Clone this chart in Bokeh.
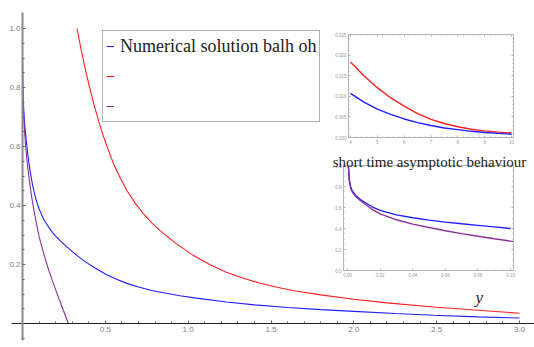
from bokeh.plotting import figure
from bokeh.models import (Range1d, LinearAxis, FixedTicker, PrintfTickFormatter,
                          Legend, LegendItem, Label)
from bokeh.embed import file_html
from bokeh.resources import INLINE

# ---------------- data ----------------
# main plot
blue_x = [0.0005, 0.002, 0.005, 0.01, 0.015, 0.02, 0.025, 0.03, 0.038, 0.045, 0.05, 0.06,
          0.07, 0.08, 0.09, 0.1, 0.115, 0.13, 0.145, 0.16, 0.18, 0.2, 0.23, 0.259, 0.29,
          0.33, 0.38, 0.44, 0.5, 0.56, 0.63, 0.7, 0.78, 0.85, 0.95, 1.05, 1.23, 1.4, 1.6,
          1.8, 2.0, 2.25, 2.48, 2.75, 3.0]
blue_y = [0.90, 0.81, 0.75, 0.70, 0.665, 0.635, 0.607, 0.582, 0.547, 0.52, 0.503, 0.472,
          0.446, 0.424, 0.405, 0.389, 0.369, 0.352, 0.338, 0.325, 0.309, 0.296, 0.279,
          0.264, 0.249, 0.230, 0.209, 0.187, 0.168, 0.152, 0.136, 0.124, 0.112, 0.104,
          0.094, 0.086, 0.073, 0.063, 0.054, 0.047, 0.041, 0.034, 0.028, 0.0225, 0.0185]

red_x = [0.329, 0.355, 0.38, 0.405, 0.43, 0.46, 0.49, 0.52, 0.55, 0.59, 0.63, 0.68, 0.73,
         0.78, 0.83, 0.93, 1.03, 1.13, 1.23, 1.33, 1.43, 1.53, 1.63, 1.8, 2.0, 2.2, 2.48,
         2.75, 3.0]
red_y = [1.0, 0.925, 0.86, 0.80, 0.745, 0.685, 0.632, 0.585, 0.541, 0.493, 0.451, 0.408,
         0.372, 0.341, 0.315, 0.27, 0.231, 0.2, 0.174, 0.154, 0.137, 0.124, 0.112, 0.097,
         0.082, 0.07, 0.056, 0.045, 0.035]

purple_x = [0.0005, 0.002, 0.005, 0.01, 0.015, 0.02, 0.027, 0.034, 0.045, 0.058, 0.07,
            0.085, 0.1, 0.115, 0.13, 0.145, 0.16, 0.19, 0.22, 0.25, 0.277]
purple_y = [0.85, 0.79, 0.735, 0.675, 0.63, 0.595, 0.553, 0.519, 0.47, 0.42, 0.381, 0.336,
            0.295, 0.263, 0.233, 0.205, 0.178, 0.130, 0.084, 0.040, 0.0]

main_xticks = [0.5, 1.0, 1.5, 2.0, 2.5, 3.0]
main_xminor = [0.1, 0.2, 0.3, 0.4, 0.6, 0.7, 0.8, 0.9, 1.1, 1.2, 1.3, 1.4, 1.6, 1.7, 1.8, 1.9,
               2.1, 2.2, 2.3, 2.4, 2.6, 2.7, 2.8, 2.9]
main_yticks = [0.2, 0.4, 0.6, 0.8, 1.0]
main_yminor = [0.05, 0.1, 0.15, 0.25, 0.3, 0.35, 0.45, 0.5, 0.55, 0.65, 0.7, 0.75,
               0.85, 0.9, 0.95, -0.05]
main_xbounds = (-0.066, 3.09)
main_ybounds = (-0.058, 1.054)

legend_labels = ["Numerical solution balh oh", " ", " "]
x_label = "y"

# inset 1 (long time)
i1_x = [4, 4.5, 5, 5.5, 6, 6.5, 7, 7.5, 8, 8.5, 9, 9.5, 10]
i1_red = [0.0183, 0.0150, 0.0121, 0.0096, 0.0076, 0.0058, 0.0044, 0.0034, 0.0026, 0.0020,
          0.0016, 0.0013, 0.0011]
i1_blue = [0.0107, 0.0086, 0.0069, 0.0056, 0.0045, 0.0036, 0.0029, 0.0023, 0.0019, 0.0015,
           0.0012, 0.0010, 0.0008]
i1_xlim = (3.925, 10.075)
i1_ylim = (0.0, 0.025)
i1_xticks = [4, 5, 6, 7, 8, 9, 10]
i1_xminor = [4.2, 4.4, 4.6, 4.8, 5.2, 5.4, 5.6, 5.8, 6.2, 6.4, 6.6, 6.8, 7.2, 7.4, 7.6, 7.8,
             8.2, 8.4, 8.6, 8.8, 9.2, 9.4, 9.6, 9.8]
i1_yticks = [0.0, 0.005, 0.010, 0.015, 0.020, 0.025]
i1_yminor = [0.001, 0.002, 0.003, 0.004, 0.006, 0.007, 0.008, 0.009, 0.011, 0.012, 0.013, 0.014,
             0.016, 0.017, 0.018, 0.019, 0.021, 0.022, 0.023, 0.024]

# inset 2 (short time)
i2_title = "short time asymptotic behaviour"
i2_x = [0.0005, 0.001, 0.002, 0.003, 0.005, 0.0075, 0.01, 0.015, 0.02, 0.03, 0.04, 0.05,
        0.06, 0.07, 0.08, 0.09, 0.10]
i2_blue = [1.0, 0.87, 0.79, 0.755, 0.715, 0.68, 0.655, 0.607, 0.572, 0.53, 0.502, 0.48,
           0.461, 0.445, 0.43, 0.415, 0.40]
i2_purple_x = [0.0005, 0.001, 0.002, 0.003, 0.005, 0.0075, 0.01, 0.015, 0.02, 0.03, 0.04, 0.05,
               0.06, 0.07, 0.08, 0.09, 0.10, 0.102]
i2_purple = [1.0, 0.86, 0.78, 0.745, 0.705, 0.67, 0.64, 0.583, 0.54, 0.483, 0.442, 0.409,
             0.379, 0.351, 0.326, 0.302, 0.28, 0.276]
i2_xlim = (-0.0025, 0.1018)
i2_ylim = (0.0, 1.0)
i2_xticks = [0.0, 0.02, 0.04, 0.06, 0.08, 0.10]
i2_xminor = [0.005, 0.01, 0.015, 0.025, 0.03, 0.035, 0.045, 0.05, 0.055, 0.065, 0.07, 0.075,
             0.085, 0.09, 0.095]
i2_yticks = [0.0, 0.2, 0.4, 0.6, 0.8, 1.0]
i2_yminor = [0.05, 0.1, 0.15, 0.25, 0.3, 0.35, 0.45, 0.5, 0.55, 0.65, 0.7, 0.75, 0.85, 0.9, 0.95]

# ---------------- styles / layout ----------------
W, H = 534, 347
BLUE, RED, PURPLE = "#1f1fff", "#ff1f1f", "#8f2f9f"
SERIF = "Liberation Serif"
SANS = "Liberation Sans"


def box_range(p0, p1, lim, total, flip=False):
    # map lim[0]..lim[1] onto pixels p0..p1 of a frame of size `total`
    scale = (lim[1] - lim[0]) / (p1 - p0)
    if not flip:
        return Range1d(lim[0] - p0 * scale, lim[1] + (total - p1) * scale)
    # vertical: p0 = top pixel (lim[1]), p1 = bottom pixel (lim[0])
    return Range1d(lim[0] - (total - p1) * scale, lim[1] + p0 * scale)


p = figure(width=W, height=H, output_backend="svg", toolbar_location=None,
           x_range=box_range(22, 519, (0.0, 3.0), W),
           y_range=box_range(28, 323, (0.0, 1.0), H, flip=True),
           min_border=0, x_axis_location=None, y_axis_location=None)
p.grid.visible = False
p.outline_line_color = None
p.background_fill_color = "white"
p.border_fill_color = "white"


def style_axis(ax, line_color, line_width, label_size, label_color, tick_color,
               major_in, minor_in, standoff, show_labels=True):
    ax.axis_line_color = line_color
    ax.axis_line_width = line_width
    ax.major_tick_in = major_in
    ax.major_tick_out = 0
    ax.minor_tick_in = minor_in
    ax.minor_tick_out = 0
    ax.major_tick_line_color = tick_color
    ax.minor_tick_line_color = tick_color
    ax.major_label_text_font = SANS
    ax.major_label_text_font_size = label_size
    ax.major_label_text_color = label_color
    ax.major_label_standoff = standoff
    if not show_labels:
        ax.major_label_text_alpha = 0


# main axes crossing at origin
xa = LinearAxis(fixed_location=0, bounds=main_xbounds,
                ticker=FixedTicker(ticks=main_xticks, minor_ticks=main_xminor),
                formatter=PrintfTickFormatter(format="%.1f"))
style_axis(xa, "#222222", 1, "8px", "#808080", "#666666", 3, 2, 3)
p.add_layout(xa, "below")
ya = LinearAxis(fixed_location=0, bounds=main_ybounds,
                ticker=FixedTicker(ticks=main_yticks, minor_ticks=main_yminor),
                formatter=PrintfTickFormatter(format="%.1f"))
style_axis(ya, "#8a8a8a", 2, "8px", "#808080", "#666666", 3, 2, 2)
p.add_layout(ya, "left")

rb = p.line(blue_x, blue_y, line_color=BLUE, line_width=1.1)
rr = p.line(red_x, red_y, line_color=RED, line_width=1.1)
rp = p.line(purple_x, purple_y, line_color=PURPLE, line_width=1.1)


def add_inset(name, box, xlim, ylim, xt, xm, yt, ym, xfmt, yfmt):
    left, top, right, bottom = box
    p.extra_x_ranges[name + "x"] = box_range(left, right, xlim, W)
    p.extra_y_ranges[name + "y"] = box_range(top, bottom, ylim, H, flip=True)
    kw = dict(x_range_name=name + "x", y_range_name=name + "y")
    for side, loc, lab in (("below", ylim[0], True), ("above", ylim[1], False)):
        ax = LinearAxis(fixed_location=loc, bounds=xlim,
                        ticker=FixedTicker(ticks=xt, minor_ticks=xm),
                        formatter=PrintfTickFormatter(format=xfmt), **kw)
        style_axis(ax, "#b4b4b4", 1, "4.5px", "#9a9a9a", "#b4b4b4", 2, 1, 2, lab)
        p.add_layout(ax, side)
    for side, loc, lab in (("left", xlim[0], True), ("right", xlim[1], False)):
        ax = LinearAxis(fixed_location=loc, bounds=ylim,
                        ticker=FixedTicker(ticks=yt, minor_ticks=ym),
                        formatter=PrintfTickFormatter(format=yfmt), **kw)
        style_axis(ax, "#b4b4b4", 1, "4.5px", "#9a9a9a", "#b4b4b4", 2, 1, 2, lab)
        p.add_layout(ax, side)
    return kw


k1 = add_inset("i1", (348, 34, 513, 137), i1_xlim, i1_ylim, i1_xticks, i1_xminor,
               i1_yticks, i1_yminor, "%d", "%.3f")
p.line(i1_x, i1_red, line_color=RED, line_width=1.4, **k1)
p.line(i1_x, i1_blue, line_color=BLUE, line_width=1.4, **k1)

k2 = add_inset("i2", (343, 165, 513, 270), i2_xlim, i2_ylim, i2_xticks, i2_xminor,
               i2_yticks, i2_yminor, "%.2f", "%.1f")
p.line(i2_x, i2_blue, line_color=BLUE, line_width=1.4, **k2)
p.line(i2_purple_x, i2_purple, line_color=PURPLE, line_width=1.4, **k2)

p.add_layout(Label(x=429, y=H - 161, x_units="screen", y_units="screen", text=i2_title,
                   text_align="center", text_baseline="alphabetic", text_font=SERIF,
                   text_font_size="15px", text_color="#222222"))
p.add_layout(Label(x=475, y=H - 297, x_units="screen", y_units="screen", text=x_label,
                   text_align="left", text_baseline="alphabetic", text_font=SERIF,
                   text_font_style="italic", text_font_size="17px", text_color="#222222"))

legend = Legend(items=[LegendItem(label=legend_labels[0], renderers=[rb]),
                       LegendItem(label=legend_labels[1], renderers=[rr]),
                       LegendItem(label=legend_labels[2], renderers=[rp])],
                location=(102, H - 122), orientation="vertical",
                label_text_font=SERIF, label_text_font_size="18px",
                label_text_color="#222222",
                glyph_width=8, glyph_height=24, label_height=24, label_standoff=6,
                spacing=6, padding=3, margin=0,
                border_line_color="#666666", border_line_width=1,
                background_fill_color="white", background_fill_alpha=1)
p.add_layout(legend, "center")

open("out.html", "w").write(file_html(p, INLINE))
